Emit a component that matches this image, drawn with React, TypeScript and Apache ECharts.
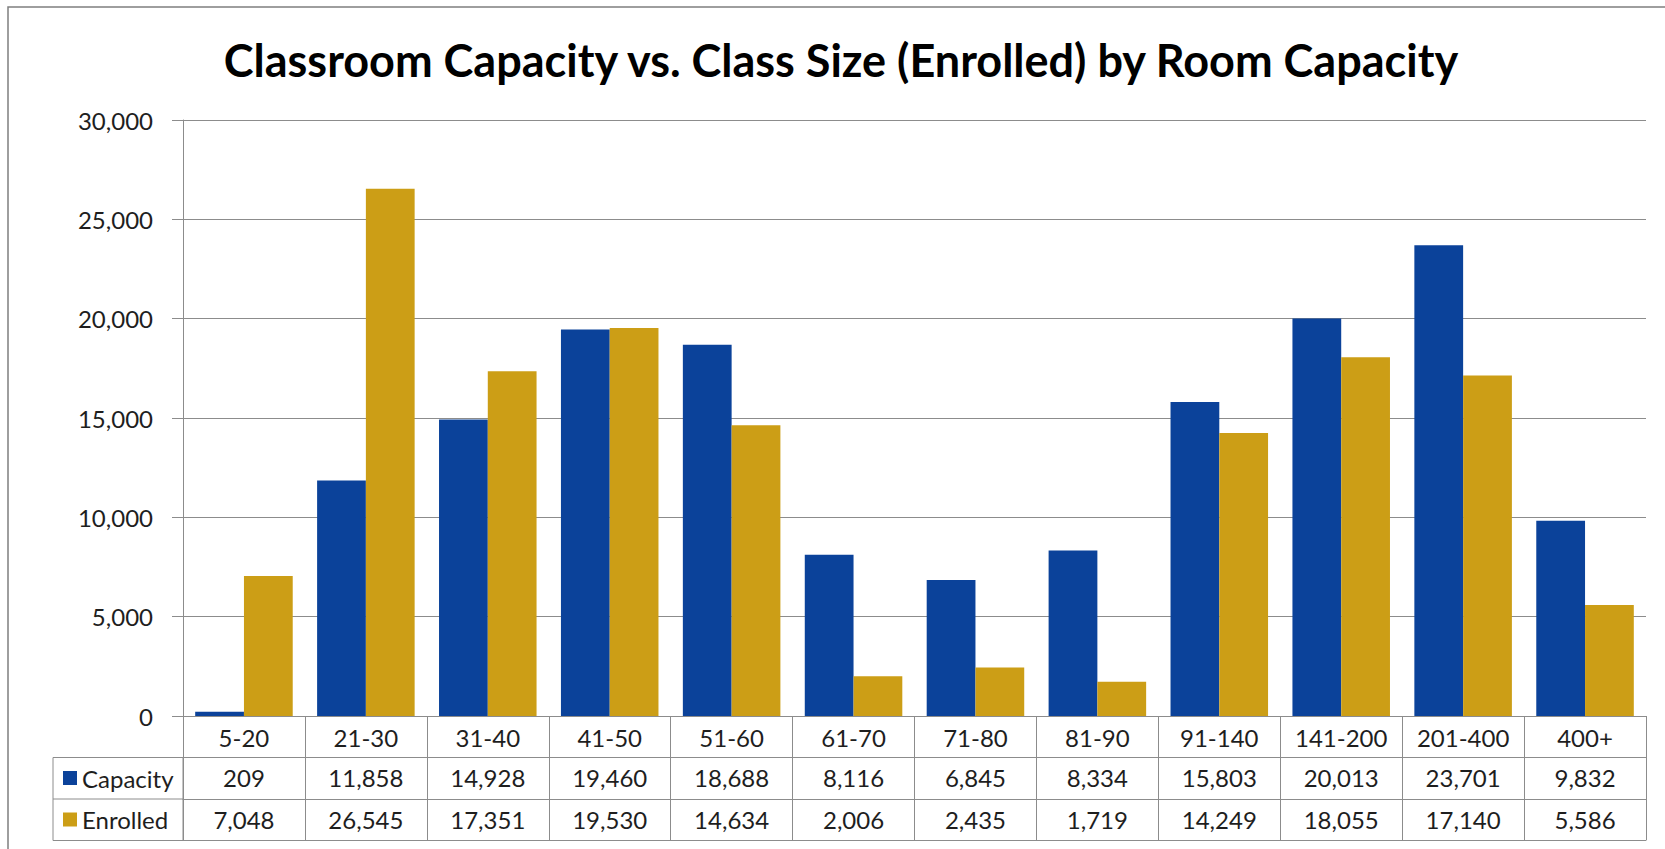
import React, { useEffect, useRef } from "react";
import * as echarts from "echarts";

const categories = ["5-20", "21-30", "31-40", "41-50", "51-60", "61-70", "71-80", "81-90", "91-140", "141-200", "201-400", "400+"];
const capacity = [209, 11858, 14928, 19460, 18688, 8116, 6845, 8334, 15803, 20013, 23701, 9832];
const enrolled = [7048, 26545, 17351, 19530, 14634, 2006, 2435, 1719, 14249, 18055, 17140, 5586];
const seriesNames = ["Capacity", "Enrolled"];
const yMax = 30000;
const yInterval = 5000;
const titleText = "Classroom Capacity vs. Class Size (Enrolled) by Room Capacity";

const BLUE = "#0B429A";
const GOLD = "#CC9E16";
const LINE = "#8c8c8c";
const TXT = "#1e1e1e";
const FONT = "Lato, 'Open Sans', sans-serif";

const fmt = (n: number) => n.toLocaleString("en-US");

export default function App() {
  const ref = useRef<HTMLDivElement>(null);
  useEffect(() => {
    if (!ref.current) return;
    const chart = echarts.init(ref.current, undefined, { renderer: "svg" });
    const gridLeft = 183;
    const gridRight = 19;
    const gridTop = 120;
    const gridBottom = 133;
    const rowH = 41.5;
    const tableAxis = (data: string[], offset: number, showLabel: boolean) => ({
      type: "category",
      data,
      position: "bottom",
      gridIndex: 0,
      offset,
      axisLine: { show: true, lineStyle: { color: LINE, width: 1 } },
      axisTick: { show: false },
      axisLabel: {
        show: showLabel,
        interval: 0,
        margin: 8,
        color: TXT,
        fontSize: 24,
        lineHeight: 24,
        fontFamily: FONT,
      },
      splitLine: { show: false },
    });
    chart.setOption({
      animation: false,
      backgroundColor: "#ffffff",
      title: {
        text: titleText,
        left: 836,
        textAlign: "center",
        top: 32,
        textStyle: { fontSize: 45, fontWeight: "bold", color: "#000", fontFamily: FONT },
      },
      legend: {
        data: seriesNames,
        orient: "vertical",
        left: 63,
        top: 766,
        padding: 0,
        itemWidth: 14,
        itemHeight: 14,
        itemGap: 17.5,
        icon: "rect",
        textStyle: { fontSize: 24, lineHeight: 24, color: TXT, fontFamily: FONT },
      },
      grid: { left: gridLeft, right: gridRight, top: gridTop, bottom: gridBottom, containLabel: false },
      xAxis: [
        {
          type: "category",
          data: categories,
          position: "bottom",
          axisLine: { show: true, lineStyle: { color: LINE, width: 1 } },
          axisTick: { show: true, interval: 0, length: 124, lineStyle: { color: LINE, width: 1 } },
          axisLabel: { interval: 0, margin: 9, color: TXT, fontSize: 24, lineHeight: 24, fontFamily: FONT },
        },
        tableAxis(capacity.map(fmt), rowH, true),
        tableAxis(enrolled.map(fmt), rowH * 2, true),
        tableAxis(categories, rowH * 3, false),
      ],
      yAxis: {
        type: "value",
        min: 0,
        max: yMax,
        interval: yInterval,
        axisLine: { show: true, lineStyle: { color: LINE, width: 1 } },
        axisTick: { show: true, length: 11, lineStyle: { color: LINE, width: 1 } },
        axisLabel: { margin: 30, color: TXT, fontSize: 24, fontFamily: FONT, formatter: (v: number) => fmt(v) },
        splitLine: { show: true, lineStyle: { color: LINE, width: 1 } },
      },
      series: [
        {
          name: seriesNames[0],
          type: "bar",
          data: capacity,
          itemStyle: { color: BLUE },
          barGap: "0%",
          barCategoryGap: "20%",
          xAxisIndex: 0,
        },
        {
          name: seriesNames[1],
          type: "bar",
          data: enrolled,
          itemStyle: { color: GOLD },
          barGap: "0%",
          barCategoryGap: "20%",
          xAxisIndex: 0,
        },
      ],
      graphic: [
        {
          type: "rect",
          silent: true,
          shape: { x: 8, y: 7, width: 1700, height: 900 },
          style: { fill: "none", stroke: "#7f7f7f", lineWidth: 1.5 },
        },
        {
          type: "rect",
          silent: true,
          shape: { x: 53, y: 716 + rowH, width: gridLeft - 53, height: rowH * 2 },
          style: { fill: "none", stroke: LINE, lineWidth: 1 },
        },
        {
          type: "line",
          silent: true,
          shape: { x1: 53, y1: 716 + rowH * 2, x2: gridLeft, y2: 716 + rowH * 2 },
          style: { stroke: LINE, lineWidth: 1 },
        },
      ],
    });
    return () => chart.dispose();
  }, []);
  return (
    <div
      ref={ref}
      style={{ position: "fixed", left: 0, top: 0, width: 1665, height: 849, background: "#fff" }}
    />
  );
}
